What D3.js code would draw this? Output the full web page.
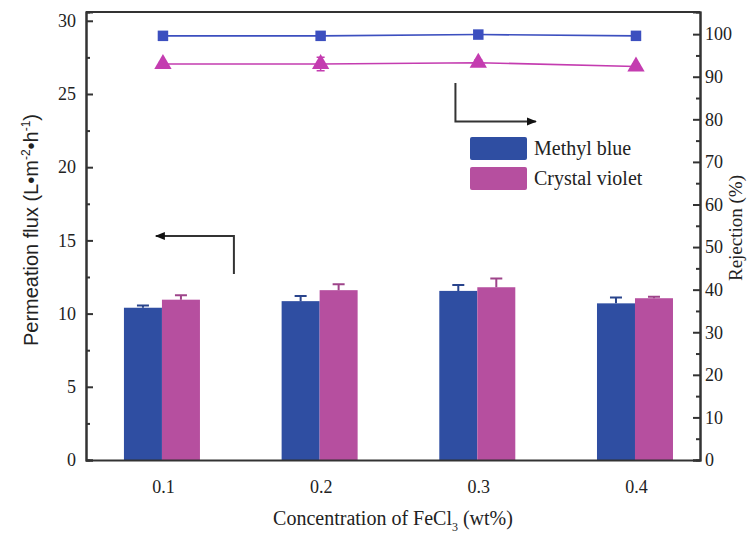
<!DOCTYPE html>
<html>
<head>
<meta charset="utf-8">
<script src="https://cdn.jsdelivr.net/npm/d3@7"></script>
<style>
  body { margin: 0; background: #fff; }
  svg text { font-family: "Liberation Serif", "Times New Roman", serif; fill: #222; }
</style>
</head>
<body>
<div id="chart"></div>
<script>
// concentrations of FeCl3 (wt%)
const concentrations = [0.1, 0.2, 0.3, 0.4];

// permeation flux (bars, left axis)
const fluxMB = [10.4, 10.85, 11.55, 10.7];
const fluxMBErr = [0.15, 0.35, 0.4, 0.4];
const fluxCV = [10.95, 11.6, 11.8, 11.05];
const fluxCVErr = [0.3, 0.4, 0.6, 0.1];

// rejection (lines, right axis)
const rejMB = [99.6, 99.6, 99.9, 99.6];
const rejMBErr = [0.2, 0.2, 0.3, 0.2];
const rejCV = [93.0, 93.0, 93.3, 92.4];
const rejCVErr = [0.5, 1.6, 0.6, 0.6];

const seriesNames = ["Methyl blue", "Crystal violet"];
const leftTicks = [0, 5, 10, 15, 20, 25, 30];
const rightTicks = [0, 10, 20, 30, 40, 50, 60, 70, 80, 90, 100];

const width = 748, height = 535;
const margin = { top: 12, right: 48, bottom: 75, left: 86 };
const blue = "#2f4ea2", pink = "#b64f9f";
const lineBlue = "#3c4fbf", linePink = "#c43cb0";

const svg = d3.select("#chart").append("svg")
  .attr("width", width)
  .attr("height", height);

const x = d3.scaleLinear().domain([0.0512, 0.4406]).range([margin.left, width - margin.right]);
const yL = d3.scaleLinear().domain([0, 30.6]).range([height - margin.bottom, margin.top]);
const yR = d3.scaleLinear().domain([0, 105.2]).range([height - margin.bottom, margin.top]);
const barW = 38;

// bars
const bars = [
  { vals: fluxMB, err: fluxMBErr, color: blue, dx: -barW - 1 },
  { vals: fluxCV, err: fluxCVErr, color: pink, dx: -1 }
];
bars.forEach(s => {
  const g = svg.append("g");
  g.selectAll("rect").data(concentrations).join("rect")
    .attr("x", (d, i) => x(d) + s.dx)
    .attr("y", (d, i) => yL(s.vals[i]))
    .attr("width", barW)
    .attr("height", (d, i) => yL(0) - yL(s.vals[i]))
    .attr("fill", s.color);
  // upward error bars
  g.selectAll("path").data(concentrations).join("path")
    .attr("d", (d, i) => {
      const cx = x(d) + s.dx + barW / 2;
      const y0 = yL(s.vals[i]), y1 = yL(s.vals[i] + s.err[i]);
      return `M${cx},${y0}V${y1}M${cx - 6},${y1}H${cx + 6}`;
    })
    .attr("stroke", d3.color(s.color).darker(0.4))
    .attr("stroke-width", 2)
    .attr("fill", "none");
});

// rejection lines
const lines = [
  { vals: rejMB, err: rejMBErr, color: lineBlue, shape: d3.symbolSquare, size: 110 },
  { vals: rejCV, err: rejCVErr, color: linePink, shape: d3.symbolTriangle, size: 130 }
];
lines.forEach(s => {
  const g = svg.append("g");
  g.append("path")
    .datum(concentrations)
    .attr("d", d3.line().x(d => x(d)).y((d, i) => yR(s.vals[i])))
    .attr("stroke", s.color)
    .attr("stroke-width", 1.6)
    .attr("fill", "none");
  g.selectAll("path.err").data(concentrations).join("path")
    .attr("class", "err")
    .attr("d", (d, i) => {
      const cx = x(d), t = yR(s.vals[i] + s.err[i]), b = yR(s.vals[i] - s.err[i]);
      return `M${cx},${t}V${b}M${cx - 4},${t}H${cx + 4}M${cx - 4},${b}H${cx + 4}`;
    })
    .attr("stroke", s.color)
    .attr("stroke-width", 1.5);
  g.selectAll("path.mk").data(concentrations).join("path")
    .attr("class", "mk")
    .attr("transform", (d, i) => `translate(${x(d)},${yR(s.vals[i])})`)
    .attr("d", d3.symbol().type(s.shape).size(s.size))
    .attr("fill", s.color);
});

// axes
const axisColor = "#333";
svg.append("g")
  .attr("transform", `translate(${margin.left},0)`)
  .call(d3.axisLeft(yL).tickValues(leftTicks).tickSize(-7).tickPadding(10));
svg.append("g")
  .attr("transform", `translate(${margin.left},0)`)
  .call(d3.axisLeft(yL).tickValues(d3.range(2.5, 30, 5)).tickSize(-4).tickFormat(""));

svg.append("g")
  .attr("transform", `translate(${width - margin.right},0)`)
  .call(d3.axisRight(yR).tickValues(rightTicks).tickSize(-7).tickPadding(5));
svg.append("g")
  .attr("transform", `translate(${width - margin.right},0)`)
  .call(d3.axisRight(yR).tickValues(d3.range(5, 105, 10)).tickSize(-4).tickFormat(""));

svg.append("g")
  .attr("transform", `translate(0,${height - margin.bottom})`)
  .call(d3.axisBottom(x).tickValues(concentrations).tickSize(0).tickPadding(20).tickFormat(d3.format(".1f")));

svg.selectAll(".domain").attr("stroke", axisColor).attr("stroke-width", 2);
svg.selectAll(".tick line").attr("stroke", axisColor).attr("stroke-width", 2);
svg.selectAll(".tick text")
  .style("font-family", "'Liberation Serif', serif")
  .style("font-size", "18px")
  .attr("fill", "#222");

// top frame line
svg.append("line")
  .attr("x1", margin.left).attr("x2", width - margin.right)
  .attr("y1", margin.top).attr("y2", margin.top)
  .attr("stroke", axisColor).attr("stroke-width", 2);

// axis titles
const leftTitle = svg.append("text")
  .attr("transform", `translate(38,${(margin.top + height - margin.bottom) / 2 - 6}) rotate(-90)`)
  .attr("text-anchor", "middle")
  .style("font-family", "'Liberation Sans', Arial, sans-serif")
  .style("font-size", "20px");
leftTitle.append("tspan").text("Permeation flux (L\u2022m");
leftTitle.append("tspan").attr("dy", -8).style("font-size", "12px").text("-2");
leftTitle.append("tspan").attr("dy", 8).text("\u2022h");
leftTitle.append("tspan").attr("dy", -8).style("font-size", "12px").text("-1");
leftTitle.append("tspan").attr("dy", 8).text(")");

svg.append("text")
  .attr("transform", `translate(742,${(margin.top + height - margin.bottom) / 2 - 8}) rotate(-90)`)
  .attr("text-anchor", "middle")
  .style("font-size", "19px")
  .text("Rejection (%)");

const xTitle = svg.append("text")
  .attr("x", (margin.left + width - margin.right) / 2)
  .attr("y", 525)
  .attr("text-anchor", "middle")
  .style("font-size", "20px");
xTitle.append("tspan").text("Concentration of FeCl");
xTitle.append("tspan").attr("dy", 6).style("font-size", "12px").text("3");
xTitle.append("tspan").attr("dy", -6).text(" (wt%)");

// legend
const legend = svg.append("g").attr("transform", "translate(470,137)");
[blue, pink].forEach((c, i) => {
  legend.append("rect")
    .attr("x", 0).attr("y", i * 30)
    .attr("width", 57).attr("height", 23)
    .attr("rx", 2)
    .attr("fill", c);
  legend.append("text")
    .attr("x", 64).attr("y", i * 30 + 18)
    .style("font-size", "20px")
    .text(seriesNames[i]);
});

// direction arrows
svg.append("defs").append("marker")
  .attr("id", "head")
  .attr("viewBox", "0 0 10 10")
  .attr("refX", 9).attr("refY", 5)
  .attr("markerWidth", 5).attr("markerHeight", 5)
  .attr("orient", "auto")
  .append("path").attr("d", "M0,1L10,5L0,9Z").attr("fill", "#111");

// left arrow: points to flux axis
svg.append("path")
  .attr("d", `M${x(0.145)},${yL(12.7)}V${yL(15.3)}H${x(0.0955)}`)
  .attr("stroke", "#333").attr("stroke-width", 2).attr("fill", "none")
  .attr("marker-end", "url(#head)");
// right arrow: points to rejection axis
svg.append("path")
  .attr("d", `M${x(0.2855)},${yR(88.5)}V${yR(79.5)}H${x(0.3365)}`)
  .attr("stroke", "#333").attr("stroke-width", 2).attr("fill", "none")
  .attr("marker-end", "url(#head)");
</script>
</body>
</html>
